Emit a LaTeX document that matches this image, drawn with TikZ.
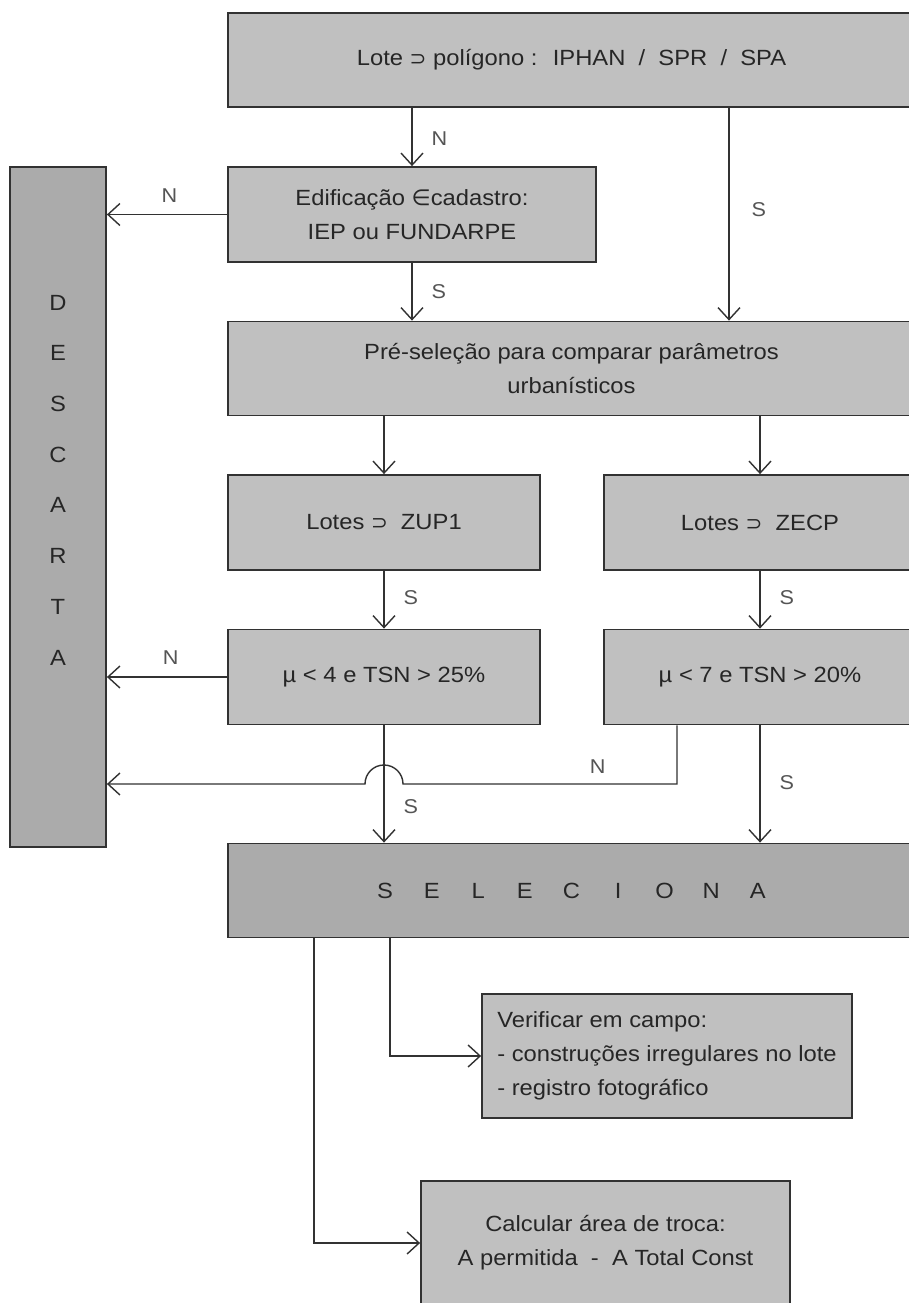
\documentclass[tikz,border=0pt]{standalone}
\usepackage{fontspec}
\setmainfont{Liberation Sans}[FakeStretch=1.08]
\newfontfamily\symfont{DejaVu Sans}
\usepackage{tikz}
\usetikzlibrary{
	arrows.meta,
	calc,
	positioning,
}
\definecolor{boxgray}{RGB}{192,192,192}
\definecolor{darkbox}{RGB}{171,171,171}
\definecolor{linegray}{RGB}{50,50,50}
\definecolor{txtgray}{RGB}{38,38,38}
\definecolor{lblgray}{RGB}{85,85,85}
\tikzset{default box/.style={
	draw=linegray,
	rectangle,
	line width=1.8pt,
	fill=boxgray,
	inner sep=0mm,
	text=txtgray,
	font=\fontsize{22}{34}\selectfont,
	align=center,
}}
\newcommand\sups{{\symfont\fontsize{20}{20}\selectfont ⊃}}
\newcommand\elem{{\symfont\fontsize{22}{22}\selectfont ∈}}

\begin{document}
\begin{tikzpicture}[
x=1pt, y=-1pt,
line width=1.4pt,
color=linegray,
->,
>={Straight Barb[length=12pt,width=22pt]},
]
\fill[white] (0,0) rectangle (909,1303);
\useasboundingbox (0,0) rectangle (909,1303);

\tikzset{
	wide/.style={default box, minimum width=687pt, minimum height=94pt},
	half/.style={default box, minimum width=312pt, minimum height=95pt},
	dark/.style={fill=darkbox},
	lbl/.style={font=\fontsize{20}{20}\selectfont, text=lblgray, inner sep=0pt},
	vtxt/.style={font=\fontsize{22}{50.7}\selectfont, text=txtgray, align=center, inner sep=0pt},
}

\begin{scope}[every node/.style={wide}]
\node(top)					at(571.5,60)	{Lote \sups\ polígono :~ IPHAN~ /~ SPR~ /~ SPA};
\node(pre)					at(571.5,368.5)	{Pré-seleção para comparar parâmetros\\urbanísticos};
\node(sel)[dark]			at(571.5,890.5)	{\foreach \c in {S,E,L,E,C,I,O,N,A}{\makebox[46.6pt]{\c}}};
\end{scope}

\begin{scope}[every node/.style={half}]
\node(edif)[minimum width=368pt]	at(412,214.5)	{Edificação \elem cadastro:\\IEP ou FUNDARPE};
\node(zup)					at(384,522.5)	{Lotes \sups~ ZUP1};
\node(zecp)					at(760,522.5)	{Lotes \sups~ ZECP};
\node(mu4)					at(384,677)		{µ < 4 e TSN > 25\%};
\node(mu7)					at(760,677)		{µ < 7 e TSN > 20\%};
\node(verif)[minimum width=370pt, minimum height=124pt, align=left]	at(667,1056)
	{Verificar em campo:\\- construções irregulares no lote\\- registro fotográfico};
\node(calc)[minimum width=369pt, minimum height=124pt]	at(605.5,1243)
	{Calcular área de troca:\\A permitida~ -~ A Total Const};
\node(descarta)[dark, minimum width=96pt, minimum height=680pt]	at(58,507)	{};
\end{scope}

\node(dtxt)[vtxt] at(58,480) {D\\E\\S\\C\\A\\R\\T\\A};

\coordinate(colR)	at(729,0);
\coordinate(nb)		at(677,784);
\coordinate(vc)		at(390,0);
\coordinate(cc)		at(314,0);

\begin{scope}
\draw (edif.north |- top.south) -- node[lbl, right=19pt, pos=.52]{N} (edif.north);
\draw (colR |- top.south) -- node[lbl, right=22pt, pos=.48]{S} (colR |- pre.north);
\draw (edif.south) -- node[lbl, right=19pt, pos=.5]{S} (edif.south |- pre.north);
\draw (zup.north |- pre.south) -- (zup.north);
\draw (zecp.north |- pre.south) -- (zecp.north);
\draw (zup.south) -- node[lbl, right=19pt, pos=.47]{S} (mu4.north);
\draw (zecp.south) -- node[lbl, right=19pt, pos=.47]{S} (mu7.north);
\draw (mu4.south) -- node[lbl, right=19pt, pos=.69]{S} (mu4.south |- sel.north);
\draw (mu7.south) -- node[lbl, right=19pt, pos=.49]{S} (mu7.south |- sel.north);
\end{scope}

\begin{scope}
\draw (edif.west) -- node[lbl, above=11pt, pos=.48]{N} (edif.west -| descarta.east);
\draw (mu4.west) -- node[lbl, above=12pt, pos=.47]{N} (mu4.west -| descarta.east);
\draw (mu7.south -| nb) -- (nb) -- node[lbl, above=10pt, pos=.29]{N}
	($(nb -| mu4.south)+(19pt,0)$) arc[start angle=0, end angle=180, radius=19pt]
	-- (nb -| descarta.east);
\end{scope}

\begin{scope}
\draw (sel.south -| vc) |- (verif.west);
\draw (sel.south -| cc) |- (calc.west);
\end{scope}

\end{tikzpicture}
\end{document}
